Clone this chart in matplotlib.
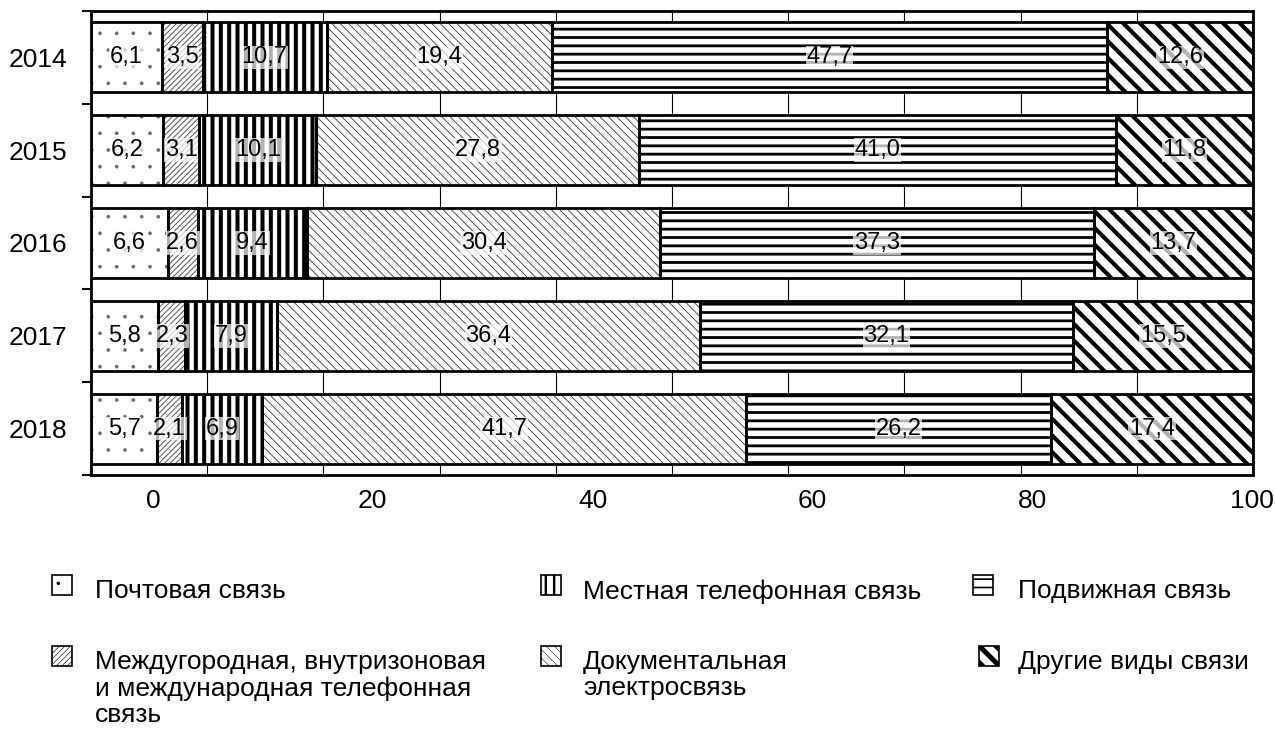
import numpy as np
import matplotlib
matplotlib.use('Agg')
import matplotlib.pyplot as plt
from matplotlib.patches import Rectangle

plt.rcParams['font.family'] = ['Liberation Sans', 'DejaVu Sans']

years = ['2014', '2015', '2016', '2017', '2018']

postal = [6.1, 6.2, 6.6, 5.8, 5.7]
long_distance = [3.5, 3.1, 2.6, 2.3, 2.1]
local_phone = [10.7, 10.1, 9.4, 7.9, 6.9]
documentary = [19.4, 27.8, 30.4, 36.4, 41.7]
mobile = [47.7, 41.0, 37.3, 32.1, 26.2]
other = [12.6, 11.8, 13.7, 15.5, 17.4]

labels = ['Почтовая связь',
          'Междугородная, внутризоновая\nи международная телефонная\nсвязь',
          'Местная телефонная связь',
          'Документальная\nэлектросвязь',
          'Подвижная связь',
          'Другие виды связи']

series = [postal, long_distance, local_phone, documentary, mobile, other]
# hatch, hatch linewidth, hatch colour
styles = [('.', 0.2, '#666666'),
          ('//////', 0.7, '#555555'),
          ('||', 2.9, 'black'),
          ('\\\\\\\\', 0.6, '#333333'),
          ('--', 2.0, 'black'),
          ('\\\\', 3.0, 'black')]

W, H = 1275, 729
fig = plt.figure(figsize=(W / 100, H / 100), dpi=100)
ax = fig.add_axes([91 / W, 1 - 475 / H, (1253 - 91) / W, (475 - 11) / H])

y = np.arange(len(years))
left = np.zeros(len(years))


def hatched_bars(vals, left, hatch, hlw, hcol):
    plt.rcParams['hatch.linewidth'] = hlw
    bars = ax.barh(y, vals, left=left, height=0.755, color='white',
                   edgecolor=hcol, hatch=hatch, linewidth=0, zorder=2)
    for b in bars:
        if hasattr(b, 'set_hatch_linewidth'):
            b.set_hatch_linewidth(hlw)
    ax.barh(y, vals, left=left, height=0.755, fill=False,
            edgecolor='black', linewidth=2, zorder=3)


for vals, (hatch, hlw, hcol) in zip(series, styles):
    vals = np.array(vals)
    hatched_bars(vals, left, hatch, hlw, hcol)
    for i, v in enumerate(vals):
        ax.text(left[i] + v / 2, y[i], f'{v:.1f}'.replace('.', ','),
                ha='center', va='center', fontsize=17, zorder=4,
                bbox=dict(facecolor='white', alpha=0.7, edgecolor='none', pad=0.5))
    left = left + vals

ax.set_xlim(0, 100)
ax.set_ylim(4.5, -0.5)
ax.set_xticks(np.arange(0, 101, 10))
ax.tick_params(axis='x', length=0, labelbottom=False)
ax.grid(axis='x', color='black', linewidth=0.8)
ax.set_axisbelow(True)

ax.set_yticks(y, years)
ax.set_yticks(np.arange(-0.5, 5, 1), minor=True)
ax.tick_params(axis='y', which='major', length=0, pad=17, labelsize=19)
ax.tick_params(axis='y', which='minor', length=6.5, width=1.5)
for s in ax.spines.values():
    s.set_linewidth(2)

# x labels are shifted relative to the grid in the original
px = 1162 / 100.0


def fwd(x):
    return (px * np.asarray(x) - 62) / 10.99


def inv(v):
    return (10.99 * np.asarray(v) + 62) / px


sec = ax.secondary_xaxis('bottom', functions=(fwd, inv))
sec.set_xticks(np.arange(0, 101, 20))
sec.tick_params(length=0, pad=10, labelsize=19)
sec.spines['bottom'].set_visible(False)

# legend drawn by hand, 3 columns
leg_cols = [(52, 95), (541, 583), (973, 1018)]
leg_rows = [591, 662]
for k, lab in enumerate(labels):
    col, row = k // 2, k % 2
    px0, tx = leg_cols[col]
    yc = leg_rows[row]
    hatch, hlw, hcol = styles[k]
    lw_leg = hlw * 0.6
    if k == 5:
        # shift so one thick stripe crosses the middle of the key box
        lw_leg = hlw * 1.2
        per = 100 / 6.0
        s = (px0 + 10 + H - (yc - 6) - 12) % per
        px0 = px0 - s if s < per / 2 else px0 + (per - s)
    plt.rcParams['hatch.linewidth'] = lw_leg
    r = Rectangle((px0 / W, 1 - (yc + 4) / H), 20 / W, 20 / H,
                  transform=fig.transFigure, facecolor='white',
                  edgecolor='black', hatch=hatch, linewidth=1.2)
    if hasattr(r, 'set_hatch_linewidth'):
        r.set_hatch_linewidth(lw_leg)
    fig.add_artist(r)
    fig.text(tx / W, 1 - (yc - 12) / H, lab, fontsize=19, va='top',
             ha='left', linespacing=1.12)

fig.savefig('out.png', dpi=100)
